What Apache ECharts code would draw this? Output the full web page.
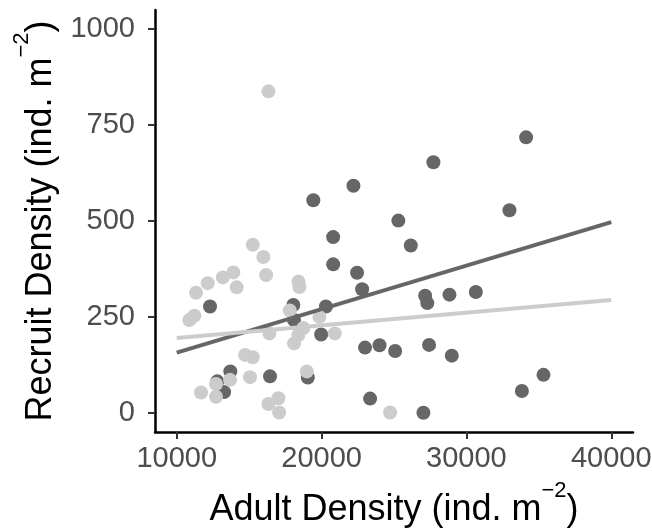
<!DOCTYPE html>
<html>
<head>
<meta charset="utf-8">
<script src="https://cdn.jsdelivr.net/npm/echarts@6/dist/echarts.min.js"></script>
<style>
  html, body { margin: 0; padding: 0; background: #fff; }
  #chart { width: 652px; height: 531px; }
</style>
</head>
<body>
<div id="chart"></div>
<script>
// adult density (x) and recruit density (y)
const darkX = [12300, 13700, 12800, 13270, 18050, 18100, 20300, 19970, 20800, 20800,
  22450, 22800, 23000, 24000, 25080, 16440, 19050, 23350, 19430, 22200,
  25300, 34120, 27720, 32970, 26160, 27150, 27300, 28830, 30650, 27420,
  28990, 35320, 33830, 27030]
const darkY = [277, 108, 82, 54, 281, 242, 277, 204, 387, 458,
  365, 322, 170, 176, 161, 95, 92, 37, 554, 592,
  501, 718, 653, 528, 436, 305, 286, 308, 315, 177,
  149, 99, 57, 0]

const lightX = [16330, 15250, 15980, 16170, 13910, 13180, 12140, 11330, 14140, 18400,
  18470, 11220, 10870, 17800, 19850, 18740, 18400, 18100, 20910, 16400,
  14720, 15250, 15060, 13680, 12710, 11680, 12710, 18980, 17020, 16330,
  17070, 24730]
const lightY = [838, 438, 406, 359, 366, 353, 338, 313, 327, 342,
  328, 253, 242, 267, 250, 221, 203, 181, 207, 207,
  151, 145, 93, 86, 75, 53, 42, 108, 38, 23,
  1, 1]

// fitted lines, ends
const fitX = [10000, 40000]
const darkFit = [157, 497]
const lightFit = [195, 294]

const xTicks = [10000, 20000, 30000, 40000]
const yTicks = [0, 250, 500, 750, 1000]

const pair = (xs, ys) => xs.map((v, i) => [v, ys[i]])

const myChart = echarts.init(document.getElementById('chart'))

// superscript for the unit, done with rich text
const nameRich = {
  a: { fontSize: 36, lineHeight: 48, verticalAlign: 'bottom', color: '#000', fontFamily: 'Liberation Sans' },
  sup: { fontSize: 22, lineHeight: 22, verticalAlign: 'top', color: '#000', fontFamily: 'Liberation Sans' }
}

myChart.setOption({
  animation: false,
  textStyle: { fontFamily: 'Liberation Sans' },
  grid: { left: 155, right: 19, top: 10, bottom: 99, containLabel: false, outerBoundsMode: 'none' },
  xAxis: {
    type: 'value',
    min: 8500,
    max: 41500,
    splitLine: { show: false },
    axisLine: { show: true, onZero: false, lineStyle: { color: '#000', width: 2.5 } },
    axisTick: { show: true, customValues: xTicks, length: 7, lineStyle: { color: '#333', width: 2 } },
    axisLabel: { customValues: xTicks, color: '#4d4d4d', fontSize: 29, margin: 12, formatter: v => String(v) },
    name: '{a|Adult Density (ind. m}{sup|−2}{a|)}',
    nameLocation: 'middle',
    nameGap: 48,
    nameTextStyle: { rich: nameRich }
  },
  yAxis: {
    type: 'value',
    min: -50,
    max: 1050,
    splitLine: { show: false },
    axisLine: { show: true, onZero: false, lineStyle: { color: '#000', width: 2.5 } },
    axisTick: { show: true, customValues: yTicks, length: 7, lineStyle: { color: '#333', width: 2 } },
    axisLabel: { customValues: yTicks, color: '#4d4d4d', fontSize: 29, margin: 20, formatter: v => String(v) },
    name: '{a|Recruit Density (ind. m}{sup|−2}{a|)}',
    nameLocation: 'middle',
    nameRotate: 90,
    nameGap: 96,
    nameTextStyle: { rich: nameRich }
  },
  series: [
    {
      type: 'scatter',
      data: pair(darkX, darkY),
      symbolSize: 14,
      itemStyle: { color: '#666666', opacity: 1 },
      emphasis: { disabled: true }
    },
    {
      type: 'scatter',
      data: pair(lightX, lightY),
      symbolSize: 14,
      itemStyle: { color: '#cccccc', opacity: 1 },
      emphasis: { disabled: true }
    },
    {
      type: 'line',
      data: pair(fitX, darkFit),
      symbol: 'none',
      lineStyle: { color: '#666666', width: 4 },
      emphasis: { disabled: true }
    },
    {
      type: 'line',
      data: pair(fitX, lightFit),
      symbol: 'none',
      lineStyle: { color: '#cccccc', width: 4 },
      emphasis: { disabled: true }
    }
  ]
})
</script>
</body>
</html>
